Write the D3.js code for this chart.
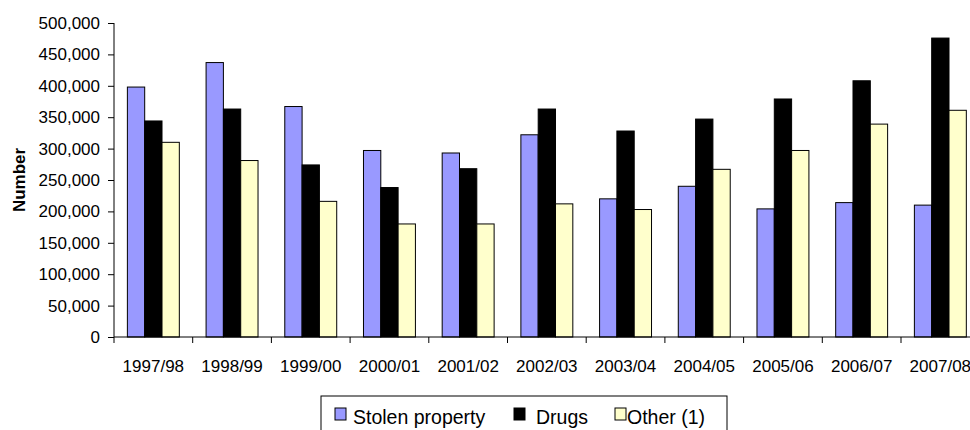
<!DOCTYPE html>
<html>
<head>
<meta charset="utf-8">
<script src="https://cdn.jsdelivr.net/npm/d3@7"></script>
<style>
body { margin:0; background:#fff; }
svg { display:block; font-family: "Liberation Sans", Arial, sans-serif; }
</style>
</head>
<body>
<div id="figure"></div>
<script>
var years = ["1997/98","1998/99","1999/00","2000/01","2001/02","2002/03","2003/04","2004/05","2005/06","2006/07","2007/08"];
var stolen = [398000,437000,367000,297000,293000,322000,220000,240000,204000,214000,210000];
var drugs  = [344000,363000,274000,238000,268000,363000,328000,347000,379000,408000,476000];
var other  = [310000,281000,216000,180000,180000,212000,203000,267000,297000,339000,361000];
var seriesNames = ["Stolen property","Drugs","Other (1)"];
var seriesColors = ["#9999ff","#000000","#ffffcc"];
var yTicks = [0,50000,100000,150000,200000,250000,300000,350000,400000,450000,500000];

var W = 970, H = 430;
var x0 = 114, step = 78.7;
var yTop = 23, yBot = 337;

var svg = d3.select("#figure").append("svg").attr("width", W).attr("height", H);

var x = d3.scaleBand().domain(years)
	.range([x0, x0 + step*years.length])
	.paddingInner(0.34).paddingOuter(0.17);
var xs = d3.scaleBand().domain([0,1,2]).range([0, x.bandwidth()]);
var y = d3.scaleLinear().domain([0,500000]).range([yBot, yTop]);

var rows = years.map(function(d,i) { return {year:d, vals:[stolen[i],drugs[i],other[i]]}; });

var g = svg.selectAll("g.grp")
	.data(rows)
	.enter()
	.append("g")
	.attr("class","grp")
	.attr("transform", function(d) { return "translate("+x(d.year)+",0)"; });

g.selectAll("rect")
	.data(function(d) { return d.vals; })
	.enter()
	.append("rect")
	.attr("x", function(d,i) { return xs(i); })
	.attr("y", function(d) { return y(d); })
	.attr("width", xs.bandwidth())
	.attr("height", function(d) { return yBot - y(d); })
	.attr("fill", function(d,i) { return seriesColors[i]; })
	.attr("stroke", "#000")
	.attr("stroke-width", 1);

// y axis
var yAxis = d3.axisLeft(y).tickValues(yTicks).tickSize(6).tickPadding(8)
	.tickFormat(d3.format(","));
var ya = svg.append("g").attr("transform","translate("+x0+",0)").call(yAxis);
ya.select(".domain").attr("stroke","#000").attr("d","M0,"+yTop+"V"+yBot);
ya.selectAll("text").attr("font-size","17px").attr("font-family","Liberation Sans, Arial, sans-serif").attr("fill","#000");

// x axis
svg.append("line")
	.attr("x1", x0).attr("x2", W).attr("y1", yBot).attr("y2", yBot)
	.attr("stroke","#000");
svg.selectAll("line.xt")
	.data(years)
	.enter()
	.append("line")
	.attr("class","xt")
	.attr("x1", function(d,i) { return x0 + step*i; })
	.attr("x2", function(d,i) { return x0 + step*i; })
	.attr("y1", yBot).attr("y2", yBot+6)
	.attr("stroke","#000");
svg.selectAll("text.xl")
	.data(years)
	.enter()
	.append("text")
	.attr("class","xl")
	.attr("x", function(d) { return x(d) + x.bandwidth()/2; })
	.attr("y", 372)
	.attr("text-anchor","middle")
	.attr("font-size","17px")
	.text(function(d) { return d; });

svg.append("text")
	.attr("transform","translate(25,180)rotate(-90)")
	.attr("text-anchor","middle")
	.attr("font-size","17px")
	.attr("font-weight","bold")
	.text("Number");

// legend
var leg = svg.append("g");
leg.append("rect")
	.attr("x",321).attr("y",396).attr("width",406).attr("height",50)
	.attr("fill","#fff").attr("stroke","#000");
var swX = [335, 514, 615];
var txX = [353, 536, 627];
var li = leg.selectAll("g.li")
	.data(seriesNames)
	.enter()
	.append("g")
	.attr("class","li");
li.append("rect")
	.attr("x", function(d,i) { return swX[i]; })
	.attr("y", 408).attr("width",11).attr("height",12)
	.attr("fill", function(d,i) { return seriesColors[i]; })
	.attr("stroke","#000");
li.append("text")
	.attr("x", function(d,i) { return txX[i]; })
	.attr("y", 424)
	.attr("font-size","19.5px")
	.text(function(d) { return d; });
</script>
</body>
</html>
